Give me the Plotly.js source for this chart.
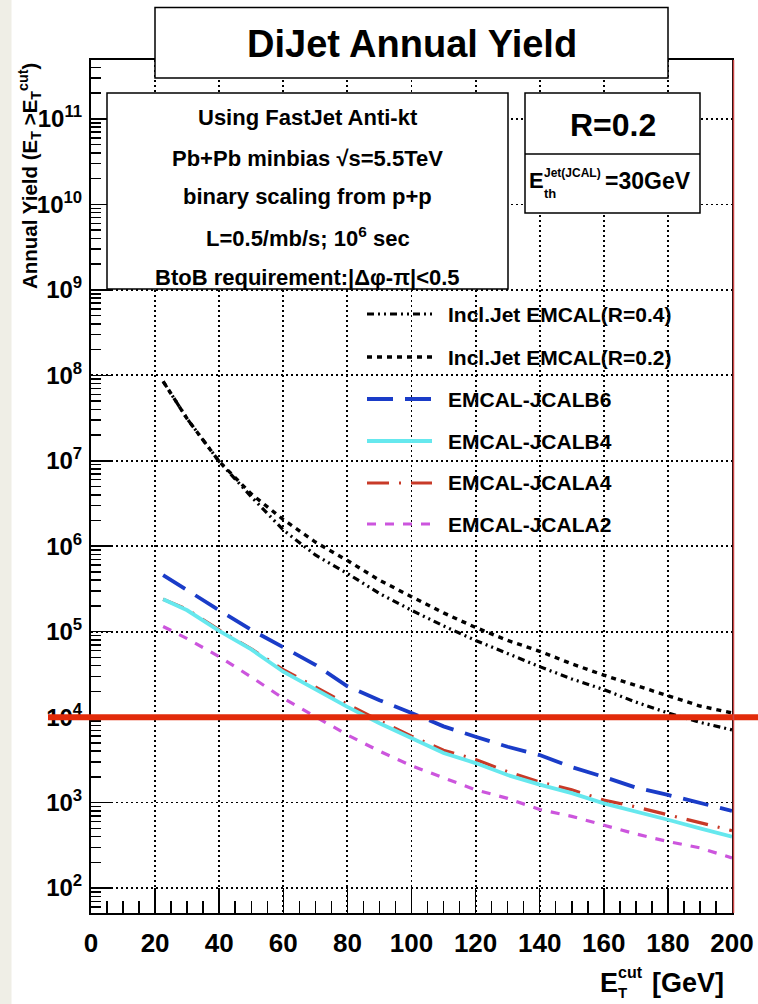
<!DOCTYPE html>
<html>
<head>
<meta charset="utf-8">
<script src="https://cdn.plot.ly/plotly-3.0.1.min.js"></script>
<style>
html, body { margin: 0; padding: 0; background: #ffffff; }
#chart { width: 758px; height: 1004px; }
</style>
</head>
<body>
<div id="chart"></div>
<script>
// ---------------- data ----------------
const etCut = [22.5, 30, 40, 50, 60, 70, 80, 90, 100, 110, 120, 130, 140, 150, 160, 170, 180, 190, 200];

const inclJetR04 = [8.5e7, 3.1e7, 9.8e6, 3.8e6, 1.55e6, 7.9e5, 4.8e5, 2.8e5, 1.78e5, 1.17e5, 7.9e4, 5.5e4, 3.9e4, 2.8e4, 2.1e4, 1.5e4, 1.12e4, 8.7e3, 7.1e3];
const inclJetR02 = [8.5e7, 3.1e7, 9.8e6, 4.1e6, 2.05e6, 1.12e6, 6.8e5, 4.0e5, 2.57e5, 1.66e5, 1.12e5, 7.9e4, 5.9e4, 4.2e4, 3.1e4, 2.35e4, 1.78e4, 1.35e4, 1.12e4];
const emcalJcalB6 = [4.6e5, 3.1e5, 1.78e5, 1.05e5, 6.5e4, 4.1e4, 2.3e4, 1.58e4, 1.12e4, 7.8e3, 5.9e3, 4.5e3, 3.6e3, 2.6e3, 2.0e3, 1.5e3, 1.23e3, 9.8e2, 8.0e2];
const emcalJcalB4 = [2.4e5, 1.78e5, 1.02e5, 6.2e4, 3.4e4, 2.1e4, 1.32e4, 8.5e3, 5.75e3, 3.8e3, 2.9e3, 2.1e3, 1.62e3, 1.29e3, 9.8e2, 7.9e2, 6.3e2, 5.0e2, 4.0e2];
const emcalJcalA4 = [2.4e5, 1.82e5, 1.05e5, 6.3e4, 3.6e4, 2.25e4, 1.41e4, 9.1e3, 6.0e3, 4.1e3, 3.2e3, 2.3e3, 1.74e3, 1.41e3, 1.07e3, 8.9e2, 7.2e2, 5.8e2, 4.7e2];
const emcalJcalA2 = [1.15e5, 8.3e4, 5.1e4, 2.95e4, 1.66e4, 1.02e4, 6.2e3, 4.0e3, 2.7e3, 1.95e3, 1.41e3, 1.12e3, 8.3e2, 6.9e2, 5.4e2, 4.3e2, 3.5e2, 2.95e2, 2.25e2];

const seriesNames = ['Incl.Jet EMCAL(R=0.4)', 'Incl.Jet EMCAL(R=0.2)', 'EMCAL-JCALB6', 'EMCAL-JCALB4', 'EMCAL-JCALA4', 'EMCAL-JCALA2'];

const xTickVals = [0, 20, 40, 60, 80, 100, 120, 140, 160, 180, 200];
const xTickText = ['0', '20', '40', '60', '80', '100', '120', '140', '160', '180', '200'];
const yTickVals = [1e2, 1e3, 1e4, 1e5, 1e6, 1e7, 1e8, 1e9, 1e10, 1e11];
const yTickText = ['10<sup>2</sup>', '10<sup>3</sup>', '10<sup>4</sup>', '10<sup>5</sup>', '10<sup>6</sup>', '10<sup>7</sup>', '10<sup>8</sup>', '10<sup>9</sup>', '10<sup>10</sup>', '10<sup>11</sup>'];

const chartTitle = 'DiJet Annual Yield';
const infoLines = [
  'Using FastJet Anti-kt',
  'Pb+Pb minbias √s=5.5TeV',
  'binary scaling from p+p',
  'L=0.5/mb/s; 10<sup>6</sup> sec',
  'BtoB requirement:|Δφ-π|&lt;0.5'
];
const radiusLabel = 'R=0.2';
const redLineValue = 1e4;

// ---------------- styling / layout helpers ----------------
const FONT = 'Liberation Sans, Arial, Helvetica, sans-serif';
const W = 758, H = 1004;
const M = { l: 91, r: 26, t: 60, b: 91 };
const PW = W - M.l - M.r, PH = H - M.t - M.b;
const px = v => (v - M.l) / PW;           // pixel x -> paper x
const py = v => (H - M.b - v) / PH;       // pixel y -> paper y
const xRange = [0, 200];
const yRange = [1.708, 11.69];

const styles = [
  { color: '#000000', width: 3.2, dash: '7px,4px,2px,4px,2px,4px' },
  { color: '#000000', width: 3.4, dash: '5px,5px' },
  { color: '#1a3cc8', width: 3.8, dash: '26px,12px' },
  { color: '#66e8ee', width: 3.8, dash: 'solid' },
  { color: '#c83a28', width: 3.2, dash: '22px,10px,2px,10px' },
  { color: '#cc55dd', width: 3.2, dash: '9px,9px' }
];
const seriesValues = [inclJetR04, inclJetR02, emcalJcalB6, emcalJcalB4, emcalJcalA4, emcalJcalA2];
const drawOrder = [0, 1, 5, 4, 3, 2];

const traces = drawOrder.map(i => ({
  type: 'scatter',
  mode: 'lines',
  name: seriesNames[i],
  x: etCut,
  y: seriesValues[i],
  line: { color: styles[i].color, width: styles[i].width, dash: styles[i].dash },
  showlegend: false,
  hoverinfo: 'skip'
}));

function ann(text, x, y, size, opts) {
  return Object.assign({
    text: text, xref: 'paper', yref: 'paper', x: px(x), y: py(y),
    xanchor: 'center', yanchor: 'middle', showarrow: false,
    font: { family: FONT, size: size, color: '#000', weight: 'bold' }
  }, opts || {});
}

const shapes = [];
const annotations = [];

// beige strip at left edge
shapes.push({ type: 'rect', xref: 'paper', yref: 'paper', x0: px(0), x1: px(11.5), y0: py(H), y1: py(0),
  fillcolor: '#efeee6', line: { width: 0 }, layer: 'below' });

// red reference line
const redFrac = (Math.log10(redLineValue) - yRange[0]) / (yRange[1] - yRange[0]);
shapes.push({ type: 'line', xref: 'paper', yref: 'paper', x0: px(48), x1: px(758), y0: redFrac, y1: redFrac,
  line: { color: '#e22b0a', width: 6 }, layer: 'above' });
// thin red tint along right frame
shapes.push({ type: 'line', xref: 'paper', yref: 'paper', x0: px(733.5), x1: px(733.5), y0: 0, y1: py(M.t),
  line: { color: '#cc4444', width: 1.5 }, layer: 'above' });

// title box
shapes.push({ type: 'rect', xref: 'paper', yref: 'paper', x0: px(155), x1: px(668), y0: py(78), y1: py(7.5),
  fillcolor: '#ffffff', line: { color: '#000', width: 1.5 }, layer: 'above' });
annotations.push(ann(chartTitle, 411.5, 44, 38));

// info box
shapes.push({ type: 'rect', xref: 'paper', yref: 'paper', x0: px(107), x1: px(508), y0: py(289), y1: py(93),
  fillcolor: '#ffffff', line: { color: '#000', width: 1.5 }, layer: 'above' });
const infoY = [117, 158, 196, 237, 277];
infoLines.forEach((t, k) => annotations.push(ann(t, 307.5, infoY[k], 22)));

// R box
shapes.push({ type: 'rect', xref: 'paper', yref: 'paper', x0: px(525), x1: px(700), y0: py(213), y1: py(93),
  fillcolor: '#ffffff', line: { color: '#000', width: 1.5 }, layer: 'above' });
shapes.push({ type: 'line', xref: 'paper', yref: 'paper', x0: px(525), x1: px(700), y0: py(154), y1: py(154),
  line: { color: '#000', width: 1.5 }, layer: 'above' });
annotations.push(ann(radiusLabel, 612.5, 125, 32));
annotations.push(ann('E', 527, 181, 22, { xanchor: 'left' }));
annotations.push(ann('Jet(JCAL)', 542, 173, 12, { xanchor: 'left' }));
annotations.push(ann('th', 542, 193, 13, { xanchor: 'left' }));
annotations.push(ann('=30GeV', 603, 181, 23, { xanchor: 'left' }));

// legend (manual)
const legendY = [314, 357, 399, 441, 483, 524];
seriesNames.forEach((name, i) => {
  shapes.push({ type: 'line', xref: 'paper', yref: 'paper', x0: px(367), x1: px(432), y0: py(legendY[i]), y1: py(legendY[i]),
    line: { color: styles[i].color, width: styles[i].width, dash: styles[i].dash }, layer: 'above' });
  annotations.push(ann(name, 446, legendY[i], 21, { xanchor: 'left' }));
});

// axis titles
annotations.push(ann('Annual Yield (E<sub>T</sub> >E<sub>T</sub><sup>cut</sup>)', 29, 176, 20.5, { textangle: -90 }));
annotations.push(ann('E', 598, 983, 27, { xanchor: 'left' }));
annotations.push(ann('cut', 616, 972, 16, { xanchor: 'left' }));
annotations.push(ann('T', 616, 992, 15, { xanchor: 'left' }));
annotations.push(ann('[GeV]', 650, 983, 27, { xanchor: 'left' }));

const axisFont = size => ({ family: FONT, size: size, color: '#000', weight: 'bold' });

const layout = {
  width: W, height: H,
  margin: { l: M.l, r: M.r, t: M.t, b: M.b, pad: 0 },
  paper_bgcolor: '#ffffff',
  plot_bgcolor: '#ffffff',
  showlegend: false,
  xaxis: {
    range: xRange,
    tickmode: 'array', tickvals: xTickVals, ticktext: xTickText,
    ticks: 'inside', ticklen: 25, tickwidth: 1.5, tickcolor: '#000',
    tickfont: axisFont(26),
    ticklabelstandoff: 6,
    showgrid: true, gridcolor: '#000', gridwidth: 1.8, griddash: '2px,3px',
    showline: true, linecolor: '#000', linewidth: 2, mirror: true,
    zeroline: false,
    minor: { dtick: 5, ticks: 'inside', ticklen: 12, tickwidth: 1.5, tickcolor: '#000', showgrid: false }
  },
  yaxis: {
    type: 'log',
    range: yRange,
    tickmode: 'array', tickvals: yTickVals, ticktext: yTickText,
    ticks: 'inside', ticklen: 20, tickwidth: 1.5, tickcolor: '#000',
    tickfont: axisFont(24),
    ticklabelstandoff: 2,
    showgrid: true, gridcolor: '#000', gridwidth: 1.8, griddash: '2px,3px',
    showline: true, linecolor: '#000', linewidth: 2, mirror: true,
    zeroline: false,
    minor: { dtick: 'D1', ticks: 'inside', ticklen: 10, tickwidth: 1.5, tickcolor: '#000', showgrid: false }
  },
  shapes: shapes,
  annotations: annotations
};

Plotly.newPlot('chart', traces, layout, { staticPlot: true, displayModeBar: false });
</script>
</body>
</html>
